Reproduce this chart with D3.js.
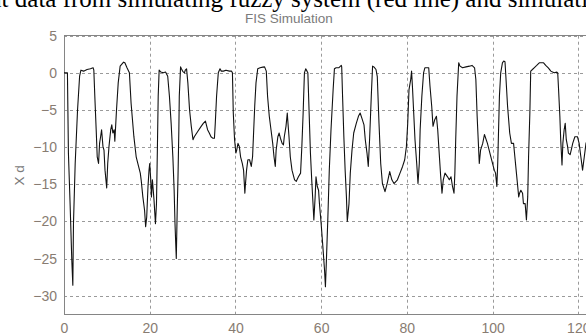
<!DOCTYPE html>
<html>
<head>
<meta charset="utf-8">
<script src="https://cdn.jsdelivr.net/npm/d3@7"></script>
<style>
  body { margin: 0; background: #fff; }
  svg { display: block; }
</style>
</head>
<body>
<svg id="chart" width="586" height="336"></svg>
<script>
// values
var xs = [0,0.8,1.03,1.42,1.82,2.06,2.21,2.61,3.16,3.64,3.95,4.58,5.38,6.17,6.8,6.96,7.19,7.51,7.75,8.06,8.3,8.54,8.77,9.09,9.33,9.57,9.96,10.2,10.5,10.9,11.15,11.4,11.7,11.86,12.25,12.65,13.1,13.9,14.2,14.7,15.26,15.65,16.3,16.84,17.4,17.8,18.0,18.4,18.8,19.05,19.3,19.6,19.84,20.0,20.24,20.4,20.63,21.0,21.34,21.58,21.8,21.98,22.2,22.6,23.16,23.7,24.2,24.6,25.0,25.4,25.7,25.9,26.2,26.4,26.6,26.8,26.9,27.2,27.4,27.7,28.1,28.3,28.6,28.9,29.3,29.7,30.1,30.4,31.2,32.0,32.5,33.0,33.5,33.9,34.3,34.7,35.1,35.3,35.6,36.0,36.4,36.7,37.2,37.8,38.6,39.1,39.3,39.5,39.8,40.1,40.3,40.6,40.9,41.2,41.6,41.9,42.2,42.3,42.6,42.9,43.3,43.7,44.0,44.2,44.5,44.8,45.2,45.75,46.4,46.8,47.2,47.5,47.9,48.3,48.7,49.0,49.3,49.5,49.9,50.2,50.5,50.9,51.2,51.4,51.8,52.1,52.2,52.5,52.8,53.2,53.8,54.2,54.7,55.2,55.5,55.8,56.1,56.4,56.7,56.9,57.2,57.5,57.8,58.1,58.3,58.6,58.8,59.1,59.4,59.6,60.0,60.4,60.8,61.0,61.2,61.55,61.9,62.3,62.8,63.1,63.5,64.1,64.7,64.8,65.0,65.3,65.6,65.9,66.1,66.5,66.8,67.2,67.6,68.2,68.7,69.1,69.5,70.0,70.3,70.7,71.0,71.3,71.7,72.0,72.3,72.8,73.1,73.5,73.9,74.3,74.9,75.4,76.0,76.5,77.0,77.8,78.4,79.0,79.5,79.9,80.2,80.5,80.9,81.1,81.3,81.6,81.9,82.3,82.6,82.9,83.1,83.5,83.9,84.2,84.6,85.1,85.4,85.8,86.1,86.5,86.9,87.2,87.5,87.9,88.2,88.5,88.9,89.5,89.9,90.3,90.65,91.0,91.2,91.4,91.7,92.1,92.4,93.0,93.8,94.6,95.2,95.8,96.1,96.4,96.9,97.2,97.7,98.1,98.8,99.6,100.4,100.7,101.0,101.2,101.4,101.6,101.9,102.3,102.6,102.9,103.1,103.5,104.0,104.4,104.9,105.2,105.5,105.8,106.1,106.3,106.6,107.0,107.2,107.6,107.9,108.2,108.4,108.7,108.9,109.3,109.7,110.3,110.9,111.4,111.9,112.4,113.0,113.6,114.0,114.4,115.0,115.2,115.4,115.7,115.9,116.2,116.4,116.7,116.95,117.2,117.5,117.7,118.1,118.35,118.7,119.2,119.8,120.2,120.6,121.0,121.4,121.8,122.1];
var ys = [0,0,-10.8,-17.6,-25.2,-28.6,-20.3,-12.2,-5.0,-0.45,0.36,0.23,0.45,0.54,0.68,0.36,-3.15,-7.66,-11.3,-12.2,-9.5,-8.6,-7.66,-9.9,-10.4,-13.1,-15.5,-12.2,-9.9,-7.66,-7.0,-8.1,-7.66,-9.2,-5.0,-1.35,0.9,1.44,1.35,0.68,0,-4.05,-8.56,-11.3,-12.6,-13.5,-14.4,-16.7,-18.5,-20.7,-19.4,-15.3,-13.1,-12.2,-14.4,-16.7,-14.4,-17.1,-20.3,-17.6,-9.9,-3.15,0.36,0.1,0,0.1,-0.45,-3.15,-6.8,-11.3,-15.8,-20.3,-25.0,-18.9,-14,-7.66,-3.15,0.8,0.54,0.2,0,0.36,0.54,-1.35,-5,-7.2,-9,-8.6,-7.9,-7.2,-6.8,-6.5,-7.66,-8.1,-8.6,-8.8,-8.8,-6.8,-3.15,0,0.54,0.23,0.23,0.36,0.23,0.23,0,-5.4,-9,-10.8,-10.4,-9.5,-9.9,-11.3,-12.2,-13.1,-16.2,-15.3,-13.1,-11.7,-11.7,-12.6,-11.3,-8.6,-4.5,-1.35,0.54,0.68,0.77,0.8,0.23,-3.15,-5.85,-7.66,-9.5,-11.3,-12.6,-10.4,-8.6,-8.1,-8.8,-9.5,-9.7,-8.6,-7.2,-5.4,-6.3,-8.6,-11.3,-13.1,-14.4,-14.6,-14,-13.5,-9.9,-5.4,0,0.54,0.23,0,-5.4,-10.8,-14.4,-17.6,-19.8,-16.7,-14,-15.3,-15.8,-17.6,-20.3,-23.4,-26.6,-28.8,-25.7,-19.8,-13.1,-7.66,-2.25,0.54,0.68,0.68,1.0,0.8,-3.15,-8.6,-13.1,-16.7,-20.0,-17.6,-13.5,-10.4,-8.1,-6.8,-5.85,-5.4,-6.1,-7.0,-9.0,-10.8,-12.6,-9,-3.15,0.9,0.8,0.45,-0.5,-6.8,-12.2,-14.9,-16,-14.9,-13.3,-14.4,-14.9,-14.4,-13.5,-12.6,-11.7,-9.9,-6.8,-2.25,-0.9,0.23,-1.8,-5.4,-9,-12.2,-14.9,-12.2,-7.66,-3.15,0,0.68,0.68,0.68,-1.8,-4.5,-7.2,-6.3,-5.85,-7.66,-10.4,-14,-16.2,-14.4,-13.5,-14,-14.4,-14,-15.3,-16.2,-13.5,-9,-3.15,1.35,0.9,0.68,0.8,0.9,1.0,0.68,-0.9,-5.85,-12.2,-10.4,-9.5,-8.3,-9.5,-11.3,-13.1,-13.5,-15.3,-12.2,-7.66,-3.15,0,1.35,1.6,1.5,-0.45,-4.5,-8.1,-9.5,-9.5,-11.3,-13.1,-14.9,-16.7,-16.2,-15.8,-16.2,-17.6,-17.6,-19.8,-16.7,-11.3,-5.4,0.23,0.45,0.68,1.0,1.35,1.35,1.35,1.0,0.68,0.23,0.1,0,0.1,0,-2.25,-5.85,-9,-12.4,-9.5,-7.66,-6.8,-9,-9.9,-10.8,-11,-10.4,-9.5,-8.6,-8.6,-9.5,-11.3,-13.1,-11.3,-9.5,-9.0];

var xTicks = [0, 20, 40, 60, 80, 100, 120];
var yTicks = [5, 0, -5, -10, -15, -20, -25, -30];
var xDomain = [0, 125];
var yDomain = [-32.6, 5];

var margin = {top: 35.7, left: 64, bottom: 315},
  width = 4.2857 * (xDomain[1] - xDomain[0]);

var svg = d3.select("#chart");

// caption of the paper, cut by the crop
svg.append("text")
  .attr("x", -22)
  .attr("y", 7)
  .style("font-family", "'Liberation Serif', 'Times New Roman', serif")
  .style("font-size", "25px")
  .attr("fill", "#000")
  .text("ent data from simulating fuzzy system (red line) and simulation");

svg.append("text")
  .attr("x", 289)
  .attr("y", 23)
  .attr("text-anchor", "middle")
  .style("font-family", "'Liberation Sans', Arial, sans-serif")
  .style("font-size", "13.5px")
  .attr("fill", "#7b7b7b")
  .text("FIS Simulation");

var x = d3.scaleLinear().domain(xDomain).range([margin.left, margin.left + width]);
var y = d3.scaleLinear().domain(yDomain).range([margin.bottom, margin.top]);

svg.append("defs").append("clipPath").attr("id", "clip")
  .append("rect")
  .attr("x", margin.left).attr("y", margin.top)
  .attr("width", width).attr("height", margin.bottom - margin.top);

// grid
var grid = svg.append("g").attr("stroke", "#9a9a9a").attr("stroke-dasharray", "3,3");
grid.selectAll(".gx").data(xTicks).enter().append("line")
  .attr("x1", function(d) { return Math.round(x(d)) + 0.5; })
  .attr("x2", function(d) { return Math.round(x(d)) + 0.5; })
  .attr("y1", margin.top).attr("y2", margin.bottom);
grid.selectAll(".gy").data(yTicks).enter().append("line")
  .attr("x1", margin.left).attr("x2", margin.left + width)
  .attr("y1", function(d) { return Math.round(y(d)) + 0.5; })
  .attr("y2", function(d) { return Math.round(y(d)) + 0.5; });

// box
svg.append("rect")
  .attr("x", margin.left + 0.5).attr("y", Math.round(margin.top) - 0.5)
  .attr("width", width).attr("height", margin.bottom - Math.round(margin.top))
  .attr("fill", "none").attr("stroke", "#858585");

// line
var line = d3.line()
  .x(function(d, i) { return x(xs[i]); })
  .y(function(d, i) { return y(ys[i]); });
svg.append("path")
  .datum(ys)
  .attr("clip-path", "url(#clip)")
  .attr("fill", "none")
  .attr("stroke", "#111")
  .attr("stroke-width", 1.1)
  .attr("stroke-linejoin", "round")
  .attr("d", line);

// axes
var xAxis = d3.axisBottom(x).tickValues(xTicks).tickSize(0).tickPadding(8);
var gx = svg.append("g")
  .attr("transform", "translate(0," + margin.bottom + ")")
  .call(xAxis);
var yAxis = d3.axisLeft(y).tickValues(yTicks).tickSize(0).tickPadding(7);
var gy = svg.append("g")
  .attr("transform", "translate(" + margin.left + ",0)")
  .call(yAxis);
[gx, gy].forEach(function(g) {
  g.select(".domain").remove();
  g.selectAll("text")
    .style("font-family", "'Liberation Sans', Arial, sans-serif")
    .style("font-size", "14px")
    .attr("fill", "#887c72");
});

svg.append("text")
  .attr("transform", "translate(24," + ((margin.top + margin.bottom) / 2) + ") rotate(-90)")
  .attr("text-anchor", "middle")
  .style("font-family", "'Liberation Sans', Arial, sans-serif")
  .style("font-size", "13.5px")
  .attr("fill", "#7b7b7b")
  .text("X d");
</script>
</body>
</html>
